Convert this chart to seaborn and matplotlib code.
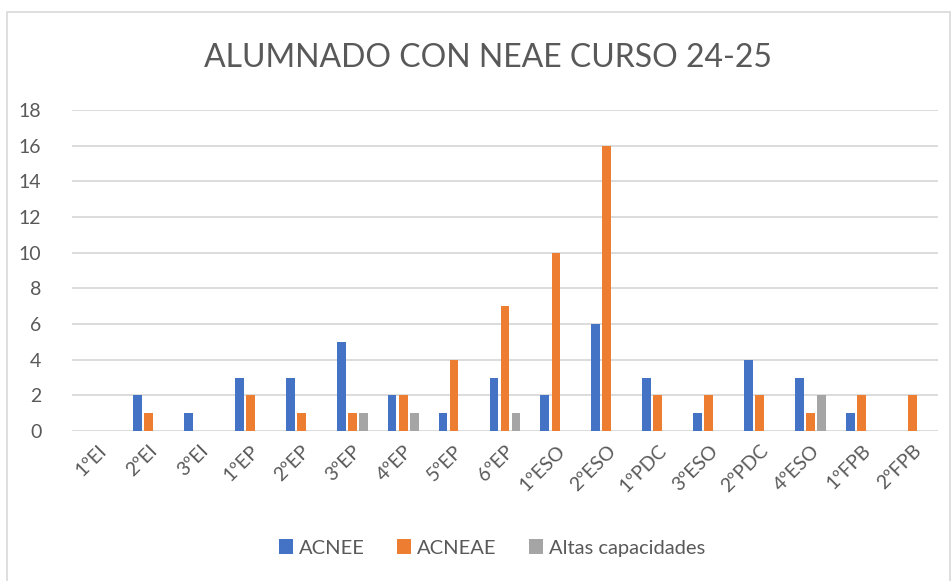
import matplotlib
matplotlib.use("Agg")
import matplotlib.pyplot as plt
import seaborn as sns
import pandas as pd
from matplotlib.patches import Rectangle, Patch

categories = ["1ºEI", "2ºEI", "3ºEI", "1ºEP", "2ºEP", "3ºEP", "4ºEP", "5ºEP", "6ºEP",
              "1ºESO", "2ºESO", "1ºPDC", "3ºESO", "2ºPDC", "4ºESO", "1ºFPB", "2ºFPB"]
acnee = [0, 2, 1, 3, 3, 5, 2, 1, 3, 2, 6, 3, 1, 4, 3, 1, 0]
acneae = [0, 1, 0, 2, 1, 1, 2, 4, 7, 10, 16, 2, 2, 2, 1, 2, 2]
altas = [0, 0, 0, 0, 0, 1, 1, 0, 1, 0, 0, 0, 0, 0, 2, 0, 0]
series_names = ["ACNEE", "ACNEAE", "Altas capacidades"]
colors = ["#4472C4", "#ED7D31", "#A5A5A5"]
yticks = [0, 2, 4, 6, 8, 10, 12, 14, 16, 18]
title = "ALUMNADO CON NEAE CURSO 24-25"

rows = []
for name, vals in zip(series_names, [acnee, acneae, altas]):
    for c, v in zip(categories, vals):
        rows.append({"curso": c, "serie": name, "valor": v})
df = pd.DataFrame(rows)

sns.set_theme(style="white")
plt.rcParams["font.family"] = ["Lato", "DejaVu Sans"]
text_color = "#595959"

fig = plt.figure(figsize=(9.53, 5.81), dpi=100)
fig.patches.append(Rectangle((7 / 953, -0.01), (950 - 7) / 953, 1 - 12 / 581 + 0.01,
                             transform=fig.transFigure, fill=False,
                             edgecolor="#D9D9D9", linewidth=1.2, zorder=0))
ax = fig.add_axes([72 / 953, 1 - 431 / 581, (938 - 72) / 953, (431 - 110) / 581])

sns.barplot(data=df, x="curso", y="valor", hue="serie", order=categories,
            hue_order=series_names, palette=colors, width=0.65, gap=0.2,
            linewidth=0, saturation=1, ax=ax, legend=False, zorder=3)

ax.set_ylim(0, 18)
ax.set_yticks(yticks)
ax.set_xlim(-0.5, len(categories) - 0.5)
ax.yaxis.grid(True, color="#D9D9D9", linewidth=1.3, zorder=0)
ax.set_axisbelow(True)
for s in ax.spines.values():
    s.set_visible(False)
ax.set_xlabel("")
ax.set_ylabel("")
ax.tick_params(axis="y", length=0, pad=22, labelsize=14, labelcolor=text_color)
ax.tick_params(axis="x", length=0, pad=8, labelsize=14, labelcolor=text_color)
for lab in ax.get_xticklabels():
    lab.set_rotation(45)
    lab.set_ha("right")
    lab.set_rotation_mode("anchor")

fig.text(488 / 953, 1 - 58 / 581, title, ha="center", va="center",
         fontsize=23, color=text_color)

handles = [Patch(facecolor=c, edgecolor="none") for c in colors]
fig.legend(handles, series_names, loc="center", bbox_to_anchor=(492 / 953, 1 - 548 / 581),
           ncol=3, frameon=False, fontsize=14.5, handlelength=0.7, handleheight=0.7,
           handletextpad=0.3, columnspacing=1.6, labelcolor=text_color)

fig.savefig("out.png", dpi=100)
